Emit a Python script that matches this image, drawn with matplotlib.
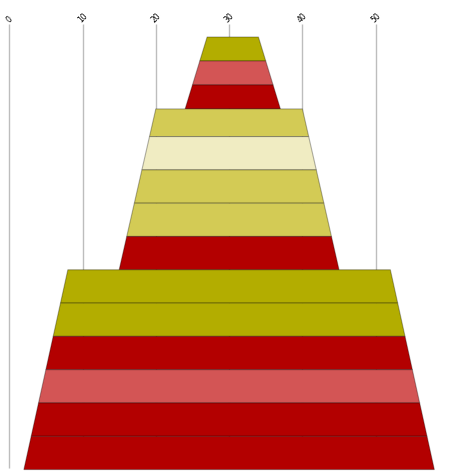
import numpy as np
import matplotlib
matplotlib.use('Agg')
import matplotlib.pyplot as plt
from matplotlib.patches import Polygon

# x ticks along the top
tick_values = [0, 10, 20, 30, 40, 50]

# each section: x extent at its top and bottom edge
top_left = [27, 20, 8]
top_right = [34, 40, 52]
bottom_left = [24, 15, 2]
bottom_right = [37, 45, 58]

# stripes in each section, top to bottom
stripe_colors = [
    ['#b3ad00', '#d35555', '#b30000'],
    ['#d3cb55', '#f0ecc2', '#d3cb55', '#d3cb55', '#b30000'],
    ['#b3ad00', '#b3ad00', '#b30000', '#d35555', '#b30000', '#b30000'],
]
stripe_heights = [
    [0.72, 0.72, 0.72],
    [0.83, 1.0, 1.0, 1.0, 1.0],
    [1.0, 1.0, 1.0, 1.0, 1.0, 1.0],
]

fig = plt.figure(figsize=(4.52, 4.77), dpi=100)
ax = fig.add_axes([0, 0, 1, 1])
ax.set_xlim(-9.2 / 7.33, (452 - 9.2) / 7.33)
ax.set_ylim((477 - 38) / 33.3, -38 / 33.3)
ax.axis('off')

total = sum(sum(h) for h in stripe_heights)
ax.vlines(tick_values, -13 / 33.3, total - 0.06, color='#bdbdbd', lw=1,
          zorder=0, capstyle='butt')
for v in tick_values:
    ax.text(v, -14 / 33.3, str(v), rotation=45, ha='center', va='bottom',
            fontsize=5.5, color='black')

y = 0.0
for g in range(len(stripe_colors)):
    h_sum = sum(stripe_heights[g])
    y0 = y
    for c, h in zip(stripe_colors[g], stripe_heights[g]):
        t0 = (y - y0) / h_sum
        t1 = (y + h - y0) / h_sum
        l0 = top_left[g] + (bottom_left[g] - top_left[g]) * t0
        l1 = top_left[g] + (bottom_left[g] - top_left[g]) * t1
        r0 = top_right[g] + (bottom_right[g] - top_right[g]) * t0
        r1 = top_right[g] + (bottom_right[g] - top_right[g]) * t1
        ax.add_patch(Polygon([[l0, y], [r0, y], [r1, y + h], [l1, y + h]],
                             closed=True, facecolor=c,
                             edgecolor=(0, 0, 0, 0.3), lw=0.8, zorder=2))
        y += h

fig.savefig('out.png', dpi=100)
